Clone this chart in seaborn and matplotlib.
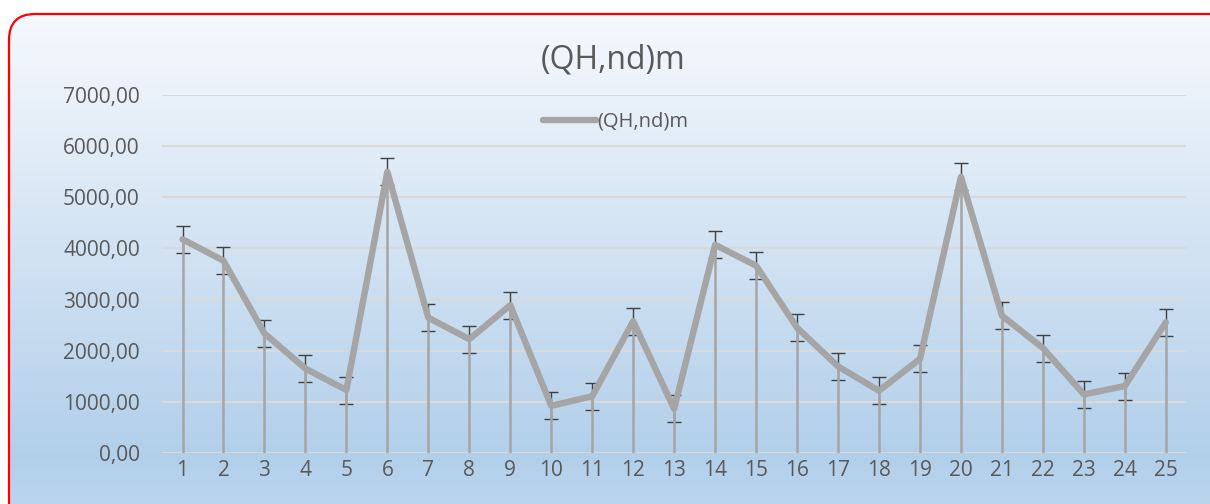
import numpy as np
import pandas as pd
import seaborn as sns
from matplotlib import pyplot as plt
from matplotlib.patches import FancyBboxPatch
from matplotlib.ticker import FuncFormatter
from matplotlib.lines import Line2D

# data
samples = list(range(1, 26))
qh_values = [4178, 3761, 2338, 1650, 1231, 5497, 2645, 2225, 2890, 923,
             1110, 2577, 862, 4071, 3663, 2450, 1693, 1217, 1840, 5399,
             2685, 2052, 1145, 1309, 2554]
error_margin = 264
series_name = "(QH,nd)m"

df = pd.DataFrame({'sample': samples, 'value': qh_values})

sns.set_style("white")
plt.rcParams['font.family'] = ['Open Sans', 'DejaVu Sans']

fig = plt.figure(figsize=(12.1, 5.04), dpi=100)

# background: rounded box with a vertical gradient and a red border
bg = fig.add_axes([0, 0, 1, 1], zorder=-1)
bg.set_xlim(0, 1210)
bg.set_ylim(504, 0)
bg.axis('off')
box = FancyBboxPatch((9, 14), 1240, 540, boxstyle="round,pad=0,rounding_size=26",
                     facecolor='none', edgecolor='#ff0000', linewidth=1.6, zorder=3)
bg.add_patch(box)
top_col = np.array([246, 249, 253]) / 255
mid_col = np.array([178, 207, 234]) / 255
bot_col = np.array([196, 219, 240]) / 255
t = np.linspace(0, 1, 256)[:, None]
k = 0.82
grad = np.where(t < k, top_col * (1 - t / k) + mid_col * (t / k),
                mid_col * (1 - (t - k) / (1 - k)) + bot_col * ((t - k) / (1 - k)))
grad = np.repeat(grad[:, None, :], 2, axis=1)
img = bg.imshow(grad, extent=(9, 1250, 554, 14), aspect='auto', zorder=1)
img.set_clip_path(box)

ax = fig.add_axes([0.1339, 0.1012, 0.8465, 0.7103], zorder=1)
ax.set_facecolor('none')

line_col = '#a5a5a5'

# error bars, drop lines, then the main line
ax.errorbar(df['sample'], df['value'], yerr=error_margin, fmt='none',
            ecolor='#404040', elinewidth=1.0, capsize=4.7, capthick=1.0, zorder=2)
ax.vlines(df['sample'], 0, df['value'], color=line_col, linewidth=1.8, zorder=3)
sns.lineplot(data=df, x='sample', y='value', ax=ax, color=line_col,
             linewidth=4.6, zorder=4, legend=False)

ax.set_xlim(0.5, 25.5)
ax.set_ylim(0, 7000)
ax.set_yticks(range(0, 7001, 1000))
ax.set_xticks(samples)
ax.yaxis.set_major_formatter(FuncFormatter(lambda v, p: f"{v:.2f}".replace('.', ',')))
ax.grid(axis='y', color='#d9d9d9', linewidth=1.5, zorder=0)
ax.set_axisbelow(True)
for s in ax.spines.values():
    s.set_visible(False)
ax.tick_params(axis='both', length=0, colors='#595959', labelsize=15)
ax.tick_params(axis='y', pad=16)
ax.tick_params(axis='x', pad=5)
ax.set_xlabel("")
ax.set_ylabel("")

fig.text(0.507, 0.881, series_name, ha='center', va='center', fontsize=23, color='#595959')

handle = Line2D([0], [0], color=line_col, linewidth=4.6)
fig.legend([handle], [series_name], loc='center', bbox_to_anchor=(0.509, 0.758),
           frameon=False, fontsize=14.5, handlelength=2.6, handletextpad=0.1,
           labelcolor='#595959')

fig.savefig('out.png', dpi=100)
